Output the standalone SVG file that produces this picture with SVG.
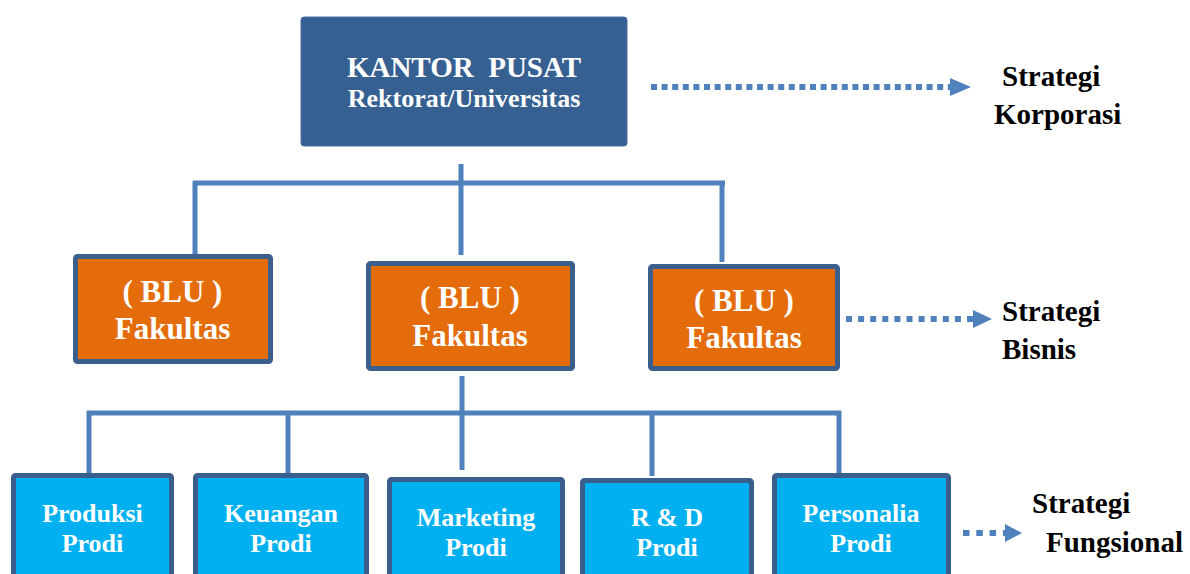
<svg xmlns="http://www.w3.org/2000/svg" width="1190" height="574" viewBox="0 0 1190 574">
<style>
text{font-family:'Liberation Serif','Times New Roman',Times,'DejaVu Serif',serif;font-weight:bold;text-anchor:middle;white-space:pre}
.w{fill:#ffffff}
.k{fill:#000000;text-anchor:start}
.org{fill:#e46c0a;stroke:#3b5f8c;stroke-width:5}
.cy{fill:#00b0f0;stroke:#3b5f8c;stroke-width:5}
.con{stroke:#4f81bd;stroke-width:5;fill:none}
.dot{stroke:#4f81bd;stroke-width:6;fill:none}
.head{fill:#4f81bd}
</style>
<rect width="1190" height="574" fill="#ffffff"/>
<g id="connectors">
<path class="con" d="M461 164V255M193 183H725M195 181V254M722 181V262"/>
<path class="con" d="M462 376V470M87 413H841M89 411V474M288 413V473M652 413V476M839 411V473"/>
</g>
<g id="kantor-pusat">
<rect x="301" y="17" width="326" height="129" rx="3" fill="#376092" stroke="#4a72a4" stroke-width="1"/>
<text class="w" x="464" y="77" font-size="29">KANTOR  PUSAT</text>
<text class="w" x="464" y="107" font-size="26">Rektorat/Universitas</text>
</g>
<g id="fakultas-1">
<rect class="org" x="75.5" y="256.5" width="195" height="105" rx="2"/>
<text class="w" x="172.5" y="302" font-size="31">( BLU )</text>
<text class="w" x="172.5" y="339" font-size="31">Fakultas</text>
</g>
<g id="fakultas-2">
<rect class="org" x="368.5" y="263.5" width="204" height="105" rx="2"/>
<text class="w" x="470" y="308" font-size="31">( BLU )</text>
<text class="w" x="470" y="346" font-size="31">Fakultas</text>
</g>
<g id="fakultas-3">
<rect class="org" x="650.5" y="266.5" width="187" height="102" rx="2"/>
<text class="w" x="744" y="311" font-size="31">( BLU )</text>
<text class="w" x="744" y="348" font-size="31">Fakultas</text>
</g>
<g id="prodi-produksi">
<rect class="cy" x="13.5" y="475.5" width="158" height="120" rx="2"/>
<text class="w" x="92.5" y="522" font-size="26">Produksi</text>
<text class="w" x="92.5" y="552" font-size="26">Prodi</text>
</g>
<g id="prodi-keuangan">
<rect class="cy" x="195.5" y="475.5" width="171" height="120" rx="2"/>
<text class="w" x="281" y="522" font-size="26">Keuangan</text>
<text class="w" x="281" y="552" font-size="26">Prodi</text>
</g>
<g id="prodi-marketing">
<rect class="cy" x="389.5" y="479.5" width="173" height="120" rx="2"/>
<text class="w" x="476" y="526" font-size="26">Marketing</text>
<text class="w" x="476" y="556" font-size="26">Prodi</text>
</g>
<g id="prodi-rnd">
<rect class="cy" x="582.5" y="480.5" width="169" height="120" rx="2"/>
<text class="w" x="667" y="526" font-size="26">R &amp; D</text>
<text class="w" x="667" y="556" font-size="26">Prodi</text>
</g>
<g id="prodi-personalia">
<rect class="cy" x="774.5" y="475.5" width="174" height="120" rx="2"/>
<text class="w" x="861" y="522" font-size="26">Personalia</text>
<text class="w" x="861" y="552" font-size="26">Prodi</text>
</g>
<g id="strategy-arrows">
<path class="dot" d="M651 87H950" stroke-dasharray="6 4.6"/>
<polygon class="head" points="950,78 971,87 950,96"/>
<path class="dot" d="M846 319H973" stroke-dasharray="6 6.1"/>
<polygon class="head" points="973,310 992,319 973,328"/>
<path class="dot" d="M963 533H1005" stroke-dasharray="6.5 6.8"/>
<polygon class="head" points="1005,524 1022,533 1005,542"/>
</g>
<g id="label-korporasi">
<text class="k" x="1002" y="86" font-size="29">Strategi</text>
<text class="k" x="994" y="124" font-size="29">Korporasi</text>
</g>
<g id="label-bisnis">
<text class="k" x="1002" y="321" font-size="29">Strategi</text>
<text class="k" x="1002" y="359" font-size="29">Bisnis</text>
</g>
<g id="label-fungsional">
<text class="k" x="1032" y="513" font-size="29">Strategi</text>
<text class="k" x="1046" y="552" font-size="29">Fungsional</text>
</g>
</svg>
